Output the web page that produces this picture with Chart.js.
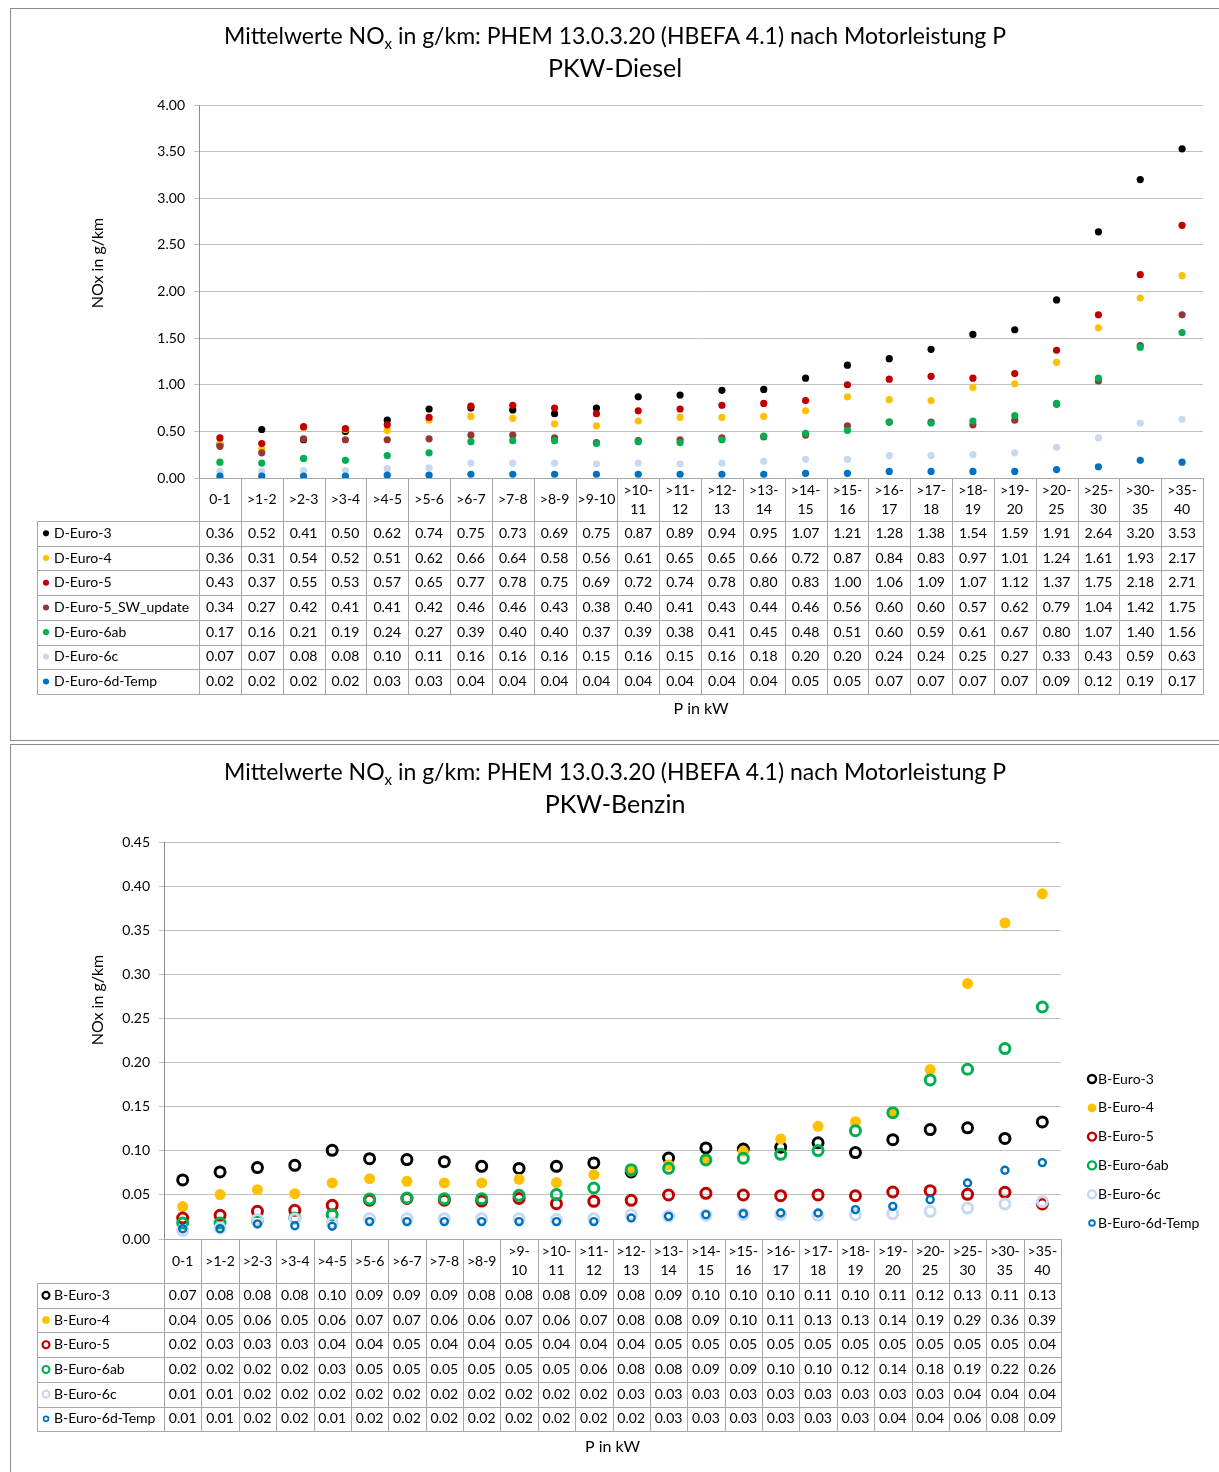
<!DOCTYPE html>
<html>
<head>
<meta charset="utf-8">
<script src="https://cdn.jsdelivr.net/npm/chart.js@4.4.0/dist/chart.umd.min.js"></script>
<style>
  body { margin: 0; background: #fff; overflow: hidden; }
  .panel { position: absolute; left: 10px; width: 1215px; border: 1px solid #8c8c8c; background: #fff; }
  #p1 { top: 8px; height: 731px; }
  #p2 { top: 744px; height: 735px; }
</style>
</head>
<body>
<div class="panel" id="p1"><canvas id="dieselChart"></canvas></div>
<div class="panel" id="p2"><canvas id="benzinChart"></canvas></div>
<script>
// categories (P in kW)
const kwClasses = ["0-1", ">1-2", ">2-3", ">3-4", ">4-5", ">5-6", ">6-7", ">7-8", ">8-9", ">9-10",
  ">10-11", ">11-12", ">12-13", ">13-14", ">14-15", ">15-16", ">16-17", ">17-18", ">18-19", ">19-20",
  ">20-25", ">25-30", ">30-35", ">35-40"];

const dieselYTicks = [0, 0.5, 1, 1.5, 2, 2.5, 3, 3.5, 4];
const benzinYTicks = [0, 0.05, 0.1, 0.15, 0.2, 0.25, 0.3, 0.35, 0.4, 0.45];

// PKW-Diesel
const dEuro3 = [0.36, 0.52, 0.41, 0.50, 0.62, 0.74, 0.75, 0.73, 0.69, 0.75, 0.87, 0.89, 0.94, 0.95, 1.07, 1.21, 1.28, 1.38, 1.54, 1.59, 1.91, 2.64, 3.20, 3.53];
const dEuro4 = [0.36, 0.31, 0.54, 0.52, 0.51, 0.62, 0.66, 0.64, 0.58, 0.56, 0.61, 0.65, 0.65, 0.66, 0.72, 0.87, 0.84, 0.83, 0.97, 1.01, 1.24, 1.61, 1.93, 2.17];
const dEuro5 = [0.43, 0.37, 0.55, 0.53, 0.57, 0.65, 0.77, 0.78, 0.75, 0.69, 0.72, 0.74, 0.78, 0.80, 0.83, 1.00, 1.06, 1.09, 1.07, 1.12, 1.37, 1.75, 2.18, 2.71];
const dEuro5Sw = [0.34, 0.27, 0.42, 0.41, 0.41, 0.42, 0.46, 0.46, 0.43, 0.38, 0.40, 0.41, 0.43, 0.44, 0.46, 0.56, 0.60, 0.60, 0.57, 0.62, 0.79, 1.04, 1.42, 1.75];
const dEuro6ab = [0.17, 0.16, 0.21, 0.19, 0.24, 0.27, 0.39, 0.40, 0.40, 0.37, 0.39, 0.38, 0.41, 0.45, 0.48, 0.51, 0.60, 0.59, 0.61, 0.67, 0.80, 1.07, 1.40, 1.56];
const dEuro6c = [0.07, 0.07, 0.08, 0.08, 0.10, 0.11, 0.16, 0.16, 0.16, 0.15, 0.16, 0.15, 0.16, 0.18, 0.20, 0.20, 0.24, 0.24, 0.25, 0.27, 0.33, 0.43, 0.59, 0.63];
const dEuro6dTemp = [0.02, 0.02, 0.02, 0.02, 0.03, 0.03, 0.04, 0.04, 0.04, 0.04, 0.04, 0.04, 0.04, 0.04, 0.05, 0.05, 0.07, 0.07, 0.07, 0.07, 0.09, 0.12, 0.19, 0.17];

// PKW-Benzin
const bEuro3 = [0.067, 0.076, 0.081, 0.0835, 0.1005, 0.091, 0.09, 0.0877, 0.0824, 0.08, 0.0824, 0.0862, 0.076, 0.0918, 0.1032, 0.102, 0.104, 0.109, 0.098, 0.1126, 0.124, 0.126, 0.114, 0.1327];
const bEuro4 = [0.0367, 0.0503, 0.0559, 0.0514, 0.0635, 0.0684, 0.0654, 0.0635, 0.0635, 0.0677, 0.064, 0.0729, 0.077, 0.084, 0.09, 0.0994, 0.1134, 0.1277, 0.133, 0.142, 0.192, 0.2895, 0.3583, 0.3912];
const bEuro5 = [0.0238, 0.0268, 0.0314, 0.0325, 0.0382, 0.044, 0.046, 0.044, 0.043, 0.046, 0.04, 0.0427, 0.0438, 0.0499, 0.0518, 0.0499, 0.0491, 0.05, 0.049, 0.0533, 0.0548, 0.0506, 0.0529, 0.0397];
const bEuro6ab = [0.018, 0.018, 0.021, 0.0238, 0.0276, 0.0454, 0.0465, 0.0457, 0.0457, 0.0495, 0.0503, 0.0578, 0.0786, 0.0801, 0.0896, 0.0915, 0.096, 0.1002, 0.1228, 0.1432, 0.1803, 0.1924, 0.2158, 0.263];
const bEuro6c = [0.0098, 0.0125, 0.022, 0.0227, 0.018, 0.023, 0.023, 0.023, 0.023, 0.023, 0.022, 0.023, 0.0276, 0.026, 0.027, 0.028, 0.028, 0.0268, 0.0276, 0.0287, 0.0314, 0.0351, 0.0397, 0.0423];
const bEuro6dTemp = [0.0117, 0.0117, 0.017, 0.0151, 0.0144, 0.0197, 0.0197, 0.0197, 0.0197, 0.0197, 0.0197, 0.0197, 0.0238, 0.0257, 0.0276, 0.0287, 0.0295, 0.0295, 0.0333, 0.037, 0.0446, 0.0635, 0.0779, 0.0866];

const FONT = 'Lato, "Open Sans", sans-serif';
const TITLE_A = "Mittelwerte NO";
const TITLE_SUB = "x";
const TITLE_B = " in g/km: PHEM 13.0.3.20 (HBEFA 4.1) nach Motorleistung P";

Chart.defaults.font.family = FONT;
Chart.defaults.color = "#000";
Chart.defaults.animation = false;
Chart.defaults.events = [];

function crisp(v) {
  return Math.round(v) + 0.5;
}

// filled dot, or hollow ring
function dot(label, data, color, i, n, r) {
  return {
    label: label, data: data, showLine: false, order: n - i,
    pointRadius: r || 3.6, pointBorderWidth: 0,
    pointBackgroundColor: color, pointBorderColor: color, borderColor: color, backgroundColor: color,
  };
}
function ring(label, data, color, i, n, r, bw) {
  return {
    label: label, data: data, showLine: false, order: n - i,
    pointRadius: r, pointBorderWidth: bw,
    pointBackgroundColor: "rgba(0,0,0,0)", pointBorderColor: color, borderColor: color, backgroundColor: color,
  };
}

function drawKey(ctx, ds, x, y, f) {
  ctx.save();
  ctx.beginPath();
  ctx.arc(x, y, ds.pointRadius * f, 0, Math.PI * 2);
  if (ds.pointBorderWidth > 0) {
    ctx.lineWidth = ds.pointBorderWidth * f;
    ctx.strokeStyle = ds.pointBorderColor;
    ctx.stroke();
  } else {
    ctx.fillStyle = ds.pointBackgroundColor;
    ctx.fill();
  }
  ctx.restore();
}

function drawTitles(ctx, cfg) {
  ctx.save();
  ctx.fillStyle = "#000";
  ctx.textBaseline = "middle";
  ctx.textAlign = "left";
  const big = "23px " + FONT, small = "15px " + FONT;
  ctx.font = big;
  const wa = ctx.measureText(TITLE_A).width, wb = ctx.measureText(TITLE_B).width;
  ctx.font = small;
  const ws = ctx.measureText(TITLE_SUB).width;
  let x = cfg.cx - (wa + ws + wb) / 2;
  ctx.font = big;
  ctx.fillText(TITLE_A, x, cfg.t1);
  x += wa;
  ctx.font = small;
  ctx.fillText(TITLE_SUB, x, cfg.t1 + 7);
  x += ws;
  ctx.font = big;
  ctx.fillText(TITLE_B, x, cfg.t1);
  ctx.font = "25px " + FONT;
  ctx.textAlign = "center";
  ctx.fillText(cfg.subtitle, cfg.cx, cfg.t2);

  // y axis title
  ctx.font = "16px " + FONT;
  ctx.translate(cfg.yTitleX, cfg.yTitleY);
  ctx.rotate(-Math.PI / 2);
  ctx.fillText("NOx in g/km", 0, 0);
  ctx.restore();
}

function drawTable(chart, cfg) {
  const ctx = chart.ctx, area = chart.chartArea, xs = chart.scales.x;
  const labels = chart.data.labels, sets = chart.data.datasets;
  const n = labels.length;
  const step = xs.getPixelForValue(1) - xs.getPixelForValue(0);
  const edges = [];
  for (let i = 0; i <= n; i++) edges.push(xs.getPixelForValue(0) - step / 2 + i * step);
  const top = area.bottom, rowsTop = top + cfg.headH;
  const bottom = rowsTop + cfg.rowH * sets.length;

  ctx.save();
  ctx.strokeStyle = "#a6a6a6";
  ctx.lineWidth = 1;
  ctx.beginPath();
  edges.forEach(function (x) {
    ctx.moveTo(crisp(x), crisp(top));
    ctx.lineTo(crisp(x), crisp(bottom));
  });
  ctx.moveTo(crisp(cfg.left), crisp(rowsTop));
  ctx.lineTo(crisp(cfg.left), crisp(bottom));
  ctx.moveTo(crisp(edges[0]), crisp(top));
  ctx.lineTo(crisp(edges[n]), crisp(top));
  for (let k = 0; k <= sets.length; k++) {
    const y = crisp(rowsTop + k * cfg.rowH);
    ctx.moveTo(crisp(cfg.left), y);
    ctx.lineTo(crisp(edges[n]), y);
  }
  ctx.stroke();

  // header (category labels)
  ctx.fillStyle = "#000";
  ctx.font = "14px " + FONT;
  ctx.textAlign = "center";
  ctx.textBaseline = "middle";
  const hy = top + cfg.headH / 2;
  labels.forEach(function (lab, i) {
    const cx = xs.getPixelForValue(i);
    if (ctx.measureText(lab).width > step - 3) {
      const cut = lab.indexOf("-", 1) + 1;
      ctx.fillText(lab.slice(0, cut), cx, hy - 9.5);
      ctx.fillText(lab.slice(cut), cx, hy + 9.5);
    } else {
      ctx.fillText(lab, cx, hy);
    }
  });

  // rows
  sets.forEach(function (ds, k) {
    const y = rowsTop + k * cfg.rowH + cfg.rowH / 2;
    drawKey(ctx, ds, cfg.left + 9, y, cfg.keyScale);
    ctx.textAlign = "left";
    ctx.fillText(ds.label, cfg.left + 17, y);
    ctx.textAlign = "center";
    ds.data.forEach(function (v, i) {
      ctx.fillText(v.toFixed(2), xs.getPixelForValue(i), y);
    });
  });

  // x axis title
  ctx.font = "16px " + FONT;
  ctx.fillText("P in kW", (area.left + area.right) / 2, bottom + cfg.xTitleGap);
  ctx.restore();
}

function drawLegend(chart, cfg) {
  const ctx = chart.ctx;
  ctx.save();
  ctx.font = "14px " + FONT;
  ctx.fillStyle = "#000";
  ctx.textAlign = "left";
  ctx.textBaseline = "middle";
  chart.data.datasets.forEach(function (ds, k) {
    const y = cfg.y + k * cfg.step;
    drawKey(ctx, ds, cfg.x, y, cfg.keyScale);
    ctx.fillText(ds.label, cfg.x + 6, y);
  });
  ctx.restore();
}

function extras(cfg) {
  return {
    id: "extras",
    afterDraw: function (chart) {
      drawTitles(chart.ctx, cfg);
      drawTable(chart, cfg);
      if (cfg.legend) drawLegend(chart, cfg.legend);
    },
  };
}

function yScale(ticks, max) {
  return {
    min: 0, max: max,
    afterBuildTicks: function (s) { s.ticks = ticks.map(function (v) { return { value: v }; }); },
    afterFit: function (s) { s.width = 60; },
    ticks: { font: { size: 14 }, color: "#000", padding: 9, callback: function (v) { return Number(v).toFixed(2); } },
    grid: { color: "#c0c0c0", tickLength: 5, drawTicks: true },
    border: { color: "#8c8c8c" },
  };
}
function xScale() {
  return {
    type: "category", offset: true,
    ticks: { display: false },
    grid: { display: false },
    border: { display: false },
    afterFit: function (s) { s.height = 0; },
  };
}

const dieselColors = ["#000000", "#ffc000", "#c00000", "#953735", "#00b050", "#c6d9f1", "#0070c0"];
const dieselNames = ["D-Euro-3", "D-Euro-4", "D-Euro-5", "D-Euro-5_SW_update", "D-Euro-6ab", "D-Euro-6c", "D-Euro-6d-Temp"];
const dieselData = [dEuro3, dEuro4, dEuro5, dEuro5Sw, dEuro6ab, dEuro6c, dEuro6dTemp];

new Chart(document.getElementById("dieselChart"), {
  type: "line",
  data: {
    labels: kwClasses,
    datasets: dieselNames.map(function (nm, i) { return dot(nm, dieselData[i], dieselColors[i], i, 7); }),
  },
  options: {
    responsive: true,
    maintainAspectRatio: false,
    layout: { padding: { left: 128, right: 23, top: 96, bottom: 262 } },
    plugins: { legend: { display: false }, tooltip: { enabled: false } },
    scales: { x: xScale(), y: yScale(dieselYTicks, 4) },
  },
  plugins: [extras({
    cx: 604, t1: 28, t2: 60, subtitle: "PKW-Diesel", yTitleX: 87, yTitleY: 254,
    headH: 43, rowH: 24.7, left: 26, keyScale: 0.85, xTitleGap: 15,
  })],
});

new Chart(document.getElementById("benzinChart"), {
  type: "line",
  data: {
    labels: kwClasses,
    datasets: [
      ring("B-Euro-3", bEuro3, "#000000", 0, 6, 5, 3),
      dot("B-Euro-4", bEuro4, "#ffc000", 1, 6, 5.5),
      ring("B-Euro-5", bEuro5, "#c00000", 2, 6, 5, 3),
      ring("B-Euro-6ab", bEuro6ab, "#00b050", 3, 6, 5, 3),
      ring("B-Euro-6c", bEuro6c, "#c6d9f1", 4, 6, 5, 3),
      ring("B-Euro-6d-Temp", bEuro6dTemp, "#0070c0", 5, 6, 3.5, 2.4),
    ],
  },
  options: {
    responsive: true,
    maintainAspectRatio: false,
    layout: { padding: { left: 93, right: 165, top: 97, bottom: 241 } },
    plugins: { legend: { display: false }, tooltip: { enabled: false } },
    scales: { x: xScale(), y: yScale(benzinYTicks, 0.45) },
  },
  plugins: [extras({
    cx: 604, t1: 28, t2: 60, subtitle: "PKW-Benzin", yTitleX: 87, yTitleY: 255,
    headH: 44, rowH: 24.7, left: 26, keyScale: 0.7, xTitleGap: 16,
    legend: { x: 1081, y: 334, step: 28.8, keyScale: 0.8 },
  })],
});
</script>
</body>
</html>
